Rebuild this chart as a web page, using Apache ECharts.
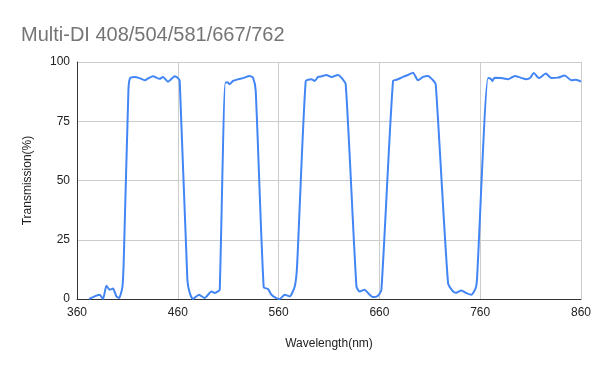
<!DOCTYPE html>
<html><head><meta charset="utf-8">
<script src="https://cdn.jsdelivr.net/npm/echarts@6/dist/echarts.min.js"></script>
<style>html,body{margin:0;padding:0;background:#fff}#c{width:600px;height:371px}</style>
</head><body><div id="c"></div>
<script>
const titleText = "Multi-DI 408/504/581/667/762";
const xTicks = [360, 460, 560, 660, 760, 860];
const yTicks = [0, 25, 50, 75, 100];
const wavelength = [
  372, 382.5, 385.8, 389.2, 392.4, 395.7, 399.1, 401.7, 405, 406.3, 411, 412.6,
  417.2, 422, 427.2, 431, 435.4, 442, 445.3, 450.3, 454, 456.9, 460.2, 461.9, 469.5, 471.8, 475,
  481, 486.7, 493.3, 496.6, 499.9, 501.6, 507.2, 509.8, 511.5, 514.8, 519.7, 524.7, 531.3, 534.6,
  537.3, 545.2, 549.5, 552.9, 557.8, 561.1, 566.1, 571, 576, 578.3, 586.9,
  592.5, 595.8, 599.1, 603, 607.4, 612.4, 618.9, 622.3, 626.6, 637.2, 640.4, 645.4,
  648.7, 653.7, 658.6, 662, 673.5, 678.5, 683.4, 688.4, 693.3, 698.3, 703.3, 708.2,
  713.2, 715.9, 728.1, 733, 736, 741.3, 746.3, 751.3, 755.5, 756.8, 767.8,
  771.1, 772.1, 774.4, 781, 787.6, 794.3, 800, 805.8, 810, 813.1, 818.3, 825, 830.6, 837.2, 843.8,
  850.4, 855, 860
];
const transmission = [
  0, 1.8, 0, 5.6, 3.9, 4.4, 1.1, 0.4, 4.9, 15.2, 88, 93.2,
  93.7, 93.2, 92.3, 93.2, 94, 92.9, 93.7, 91.7, 93, 94, 93.2, 92, 8.1, 2.6, 0,
  1.8, 0.4, 3.2, 2.5, 3.2, 3.9, 91.3, 91.3, 90.6, 92, 92.7, 93.2, 94.1, 93.4,
  87.8, 5, 4.2, 1.8, 0.4, 0, 1.8, 1.1, 5.3, 13.7, 92,
  92.7, 92, 93.7, 94, 94.5, 93.7, 94.5, 93.4, 90.6, 5.3, 3.2, 3.9,
  2.5, 0.8, 1.4, 3.9, 92, 92.7, 93.7, 94.5, 95.5, 92.3, 93.7, 94.1,
  92.3, 90.6, 6.7, 3.2, 2.6, 3.6, 2.5, 1.8, 4.6, 8.1, 93.2,
  92.7, 92, 93.4, 93.2, 92.7, 94.1, 93.4, 92.7, 93.5, 95.4, 93.2, 95.1, 93.2, 93.4, 94.3,
  92.3, 92.5, 91.7
];
const points = wavelength.map((w, i) => [w, transmission[i]]);
const font = "'Liberation Sans', Arial, sans-serif";
const chart = echarts.init(document.getElementById('c'), null, {renderer: 'canvas'});
chart.setOption({
  animation: false,
  backgroundColor: '#ffffff',
  title: {
    text: titleText, left: 16, top: 20,
    textStyle: {fontFamily: font, fontSize: 20, fontWeight: 'normal', color: '#757575'}
  },
  grid: {left: 77, right: 19, top: 62, bottom: 72},
  xAxis: {
    type: 'value', min: xTicks[0], max: xTicks[xTicks.length - 1], interval: 100,
    name: 'Wavelength(nm)', nameLocation: 'middle', nameGap: 39,
    nameTextStyle: {fontFamily: font, fontSize: 12, color: '#222'},
    axisLine: {show: true, onZero: false, lineStyle: {color: '#333', width: 1}},
    axisTick: {show: false},
    axisLabel: {fontFamily: font, fontSize: 12, color: '#222', margin: 8},
    splitLine: {show: true, lineStyle: {color: '#cccccc', width: 1}}
  },
  yAxis: {
    type: 'value', min: yTicks[0], max: yTicks[yTicks.length - 1], interval: 25,
    name: 'Transmission(%)', nameLocation: 'middle', nameGap: 43,
    nameTextStyle: {fontFamily: font, fontSize: 12, color: '#222'},
    axisLine: {show: true, lineStyle: {color: '#333', width: 1}},
    axisTick: {show: false},
    axisLabel: {fontFamily: font, fontSize: 12, color: '#222', margin: 7},
    splitLine: {show: true, lineStyle: {color: '#cccccc', width: 1}}
  },
  series: [{
    type: 'line', data: points, showSymbol: false, smooth: 0.2,
    lineStyle: {color: '#4285f4', width: 2}, itemStyle: {color: '#4285f4'}
  }]
});
</script></body></html>
